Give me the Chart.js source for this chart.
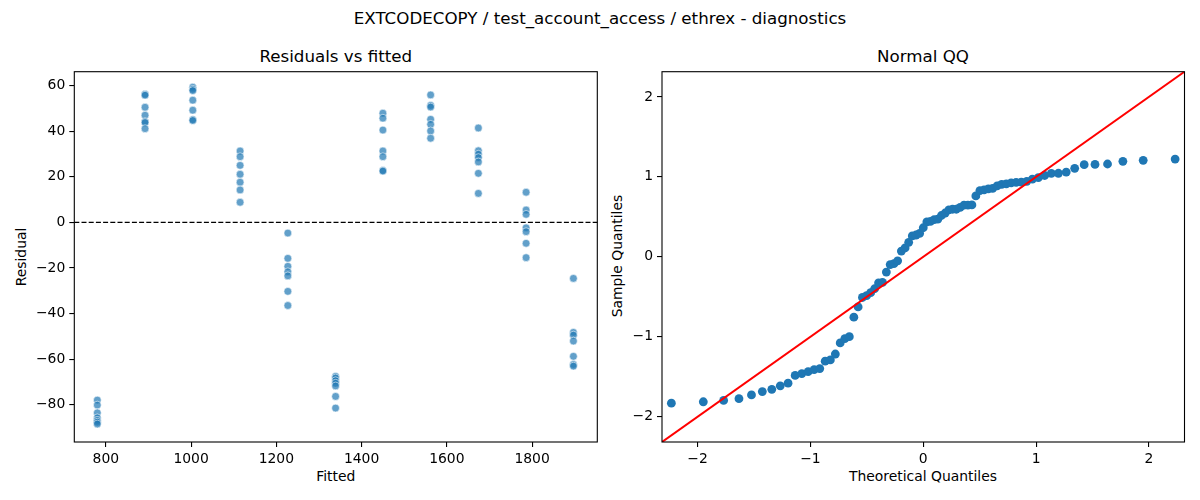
<!DOCTYPE html>
<html>
<head>
<meta charset="utf-8">
<script src="https://cdn.jsdelivr.net/npm/chart.js@4.4.1/dist/chart.umd.min.js"></script>
<style>
  html, body { margin:0; padding:0; background:#fff; }
  body { width:1200px; height:500px; position:relative; overflow:hidden; font-family:'DejaVu Sans', sans-serif; color:#000; }
  canvas { position:absolute; }
  .lbl { position:absolute; white-space:nowrap; line-height:1; transform:translate(-50%,-50%); }
  .rot { transform:translate(-50%,-50%) rotate(-90deg); }
</style>
</head>
<body>
<div class="lbl" style="left:600px;top:18px;font-size:16.7px;">EXTCODECOPY / test_account_access / ethrex - diagnostics</div>
<div class="lbl" style="left:335.8px;top:56px;font-size:16.7px;">Residuals vs fitted</div>
<div class="lbl" style="left:923px;top:56px;font-size:16.7px;">Normal QQ</div>
<div class="lbl" style="left:335.8px;top:477px;font-size:13.9px;">Fitted</div>
<div class="lbl" style="left:923px;top:477px;font-size:13.9px;">Theoretical Quantiles</div>
<div class="lbl rot" style="left:22px;top:257px;font-size:13.9px;">Residual</div>
<div class="lbl rot" style="left:618px;top:256px;font-size:13.9px;">Sample Quantiles</div>

<canvas id="left" width="610" height="460" style="left:0px;top:40px;width:610px;height:460px;"></canvas>
<canvas id="right" width="590" height="460" style="left:610px;top:40px;width:590px;height:460px;"></canvas>

<script>
// ---------- data ----------
const fittedLevels = [780, 892, 1004, 1115, 1227, 1339, 1450, 1562, 1674, 1786, 1897];
const residG01 = [-78.0, -80.2, -83.6, -85.8, -86.9, -87.7, -88.5];
const residG02 = [56.2, 55.8, 50.5, 47.0, 44.2, 43.8, 41.1];
const residG03 = [59.3, 58.4, 57.8, 53.6, 49.2, 45.1, 44.7];
const residG04 = [31.3, 28.8, 25.0, 21.1, 17.6, 14.2, 8.8];
const residG05 = [-4.7, -15.8, -19.3, -21.7, -23.5, -30.3, -36.5];
const residG06 = [-67.6, -68.3, -69.5, -70.6, -71.8, -76.4, -81.5];
const residG07 = [47.9, 45.7, 40.5, 31.3, 28.8, 22.8, 22.5];
const residG08 = [55.9, 51.3, 50.6, 45.2, 43.0, 40.1, 36.9];
const residG09 = [41.4, 31.4, 29.9, 28.4, 26.5, 21.5, 12.7];
const residG10 = [13.2, 5.4, 3.5, -2.4, -4.1, -9.2, -15.5];
const residG11 = [-24.6, -48.3, -49.5, -52.1, -58.8, -62.4, -63.1];
const residualGroups = [residG01, residG02, residG03, residG04, residG05, residG06,
                        residG07, residG08, residG09, residG10, residG11];

const qqTheoretical = [
 -2.232, -1.949, -1.769, -1.633, -1.522, -1.426, -1.342, -1.267, -1.198, -1.135,
 -1.076, -1.020, -0.967, -0.917, -0.869, -0.823, -0.779, -0.736, -0.695, -0.655,
 -0.615, -0.577, -0.539, -0.502, -0.466, -0.431, -0.396, -0.361, -0.327, -0.293,
 -0.260, -0.227, -0.194, -0.161, -0.129, -0.097, -0.064, -0.032, 0.000,
  0.032, 0.064, 0.097, 0.129, 0.161, 0.194, 0.227, 0.260, 0.293, 0.327,
  0.361, 0.396, 0.431, 0.466, 0.502, 0.539, 0.577, 0.615, 0.655, 0.695,
  0.736, 0.779, 0.823, 0.869, 0.917, 0.967, 1.020, 1.076, 1.135, 1.198,
  1.267, 1.342, 1.426, 1.522, 1.633, 1.769, 1.949, 2.232];
const qqSample = [
 -1.829, -1.812, -1.795, -1.773, -1.727, -1.684, -1.657, -1.612, -1.579, -1.483,
 -1.459, -1.436, -1.411, -1.397, -1.304, -1.289, -1.215, -1.076, -1.023, -0.998,
 -0.754, -0.626, -0.508, -0.486, -0.448, -0.399, -0.326, -0.320, -0.190, -0.097,
 -0.085, -0.050, 0.072, 0.112, 0.182, 0.262, 0.273, 0.293, 0.364,
  0.436, 0.444, 0.465, 0.471, 0.517, 0.548, 0.587, 0.595, 0.595, 0.618,
  0.647, 0.647, 0.649, 0.762, 0.829, 0.837, 0.849, 0.855, 0.888, 0.905,
  0.913, 0.924, 0.932, 0.934, 0.944, 0.971, 0.990, 1.017, 1.043, 1.045,
  1.060, 1.107, 1.153, 1.155, 1.161, 1.194, 1.207, 1.222];

const leftXTicks = [800, 1000, 1200, 1400, 1600, 1800];
const leftYTicks = [-80, -60, -40, -20, 0, 20, 40, 60];
const qqTicks = [-2, -1, 0, 1, 2];

// ---------- helpers ----------
const FONT = { family: "'DejaVu Sans', sans-serif", size: 13.9 };
const minus = v => String(v).replace('-', '\u2212');

function axis(min, max, tickList, fitProp, fitVal) {
  return {
    type: 'linear', min, max,
    border: { display: false },
    grid: { display: true, drawOnChartArea: false, drawTicks: true, tickLength: 5, color: '#000', lineWidth: 1.1 },
    ticks: { color: '#000', font: FONT, padding: 4, callback: v => minus(v) },
    afterBuildTicks: s => { s.ticks = tickList.map(v => ({ value: v })); },
    afterFit: s => { s[fitProp] = fitVal; }
  };
}

const framePlugin = {
  id: 'frame',
  afterDatasetsDraw(chart, args, opts) {
    const { ctx, chartArea: a, scales } = chart;
    ctx.save();
    if (opts.zeroLine) {
      const y = scales.y.getPixelForValue(0);
      ctx.strokeStyle = '#000'; ctx.lineWidth = 1.2; ctx.setLineDash([5, 2.2]);
      ctx.beginPath(); ctx.moveTo(a.left, y); ctx.lineTo(a.right, y); ctx.stroke();
      ctx.setLineDash([]);
    }
    if (opts.diag) {
      const lo = Math.min(scales.x.min, scales.y.min), hi = Math.max(scales.x.max, scales.y.max);
      ctx.beginPath(); ctx.rect(a.left, a.top, a.right - a.left, a.bottom - a.top); ctx.clip();
      ctx.strokeStyle = '#ff0000'; ctx.lineWidth = 2;
      ctx.beginPath();
      ctx.moveTo(scales.x.getPixelForValue(lo), scales.y.getPixelForValue(lo));
      ctx.lineTo(scales.x.getPixelForValue(hi), scales.y.getPixelForValue(hi));
      ctx.stroke();
    }
    ctx.restore();
    ctx.save();
    ctx.strokeStyle = '#000'; ctx.lineWidth = 1.1;
    ctx.strokeRect(a.left, a.top, a.right - a.left, a.bottom - a.top);
    ctx.restore();
  }
};

// ---------- left: residuals vs fitted ----------
const residPoints = [];
fittedLevels.forEach((f, i) => residualGroups[i].forEach(r => residPoints.push({ x: f, y: r })));

new Chart(document.getElementById('left'), {
  type: 'scatter',
  data: { datasets: [{
    data: residPoints,
    pointRadius: 3.9, pointHoverRadius: 3.9,
    backgroundColor: 'rgba(31,119,180,0.7)',
    borderColor: 'rgba(255,255,255,0.7)', borderWidth: 0.8
  }]},
  options: {
    responsive: false, animation: false, devicePixelRatio: 1,
    layout: { padding: { left: 0, top: 31.7, right: 12.7, bottom: 0 } },
    plugins: { legend: { display: false }, tooltip: { enabled: false }, frame: { zeroLine: true } },
    scales: {
      x: axis(726, 1953, leftXTicks, 'height', 58),
      y: axis(-96.4, 66.1, leftYTicks, 'width', 74.3)
    }
  },
  plugins: [framePlugin]
});

// ---------- right: normal QQ ----------
const qqPoints = qqTheoretical.map((t, i) => ({ x: t, y: qqSample[i] }));

new Chart(document.getElementById('right'), {
  type: 'scatter',
  data: { datasets: [{
    data: qqPoints,
    pointRadius: 4.4, pointHoverRadius: 4.4,
    backgroundColor: '#1f77b4', borderColor: '#1f77b4', borderWidth: 0
  }]},
  options: {
    responsive: false, animation: false, devicePixelRatio: 1,
    layout: { padding: { left: 0, top: 31.7, right: 15.5, bottom: 0 } },
    plugins: { legend: { display: false }, tooltip: { enabled: false }, frame: { diag: true } },
    scales: {
      x: axis(-2.315, 2.315, qqTicks, 'height', 58),
      y: axis(-2.315, 2.315, qqTicks, 'width', 52)
    }
  },
  plugins: [framePlugin]
});
</script>
</body>
</html>
